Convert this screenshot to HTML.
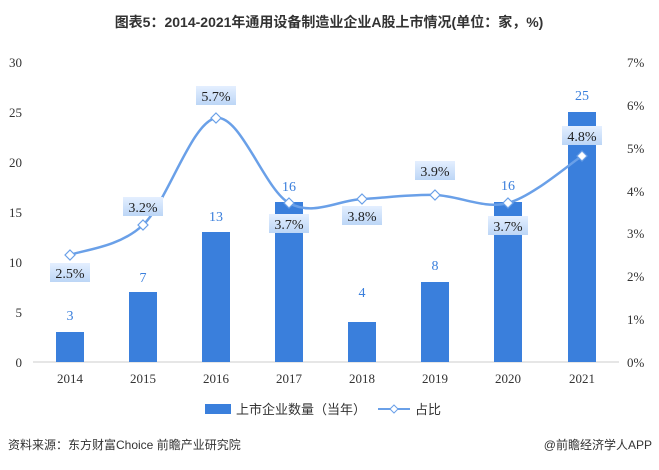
<!DOCTYPE html><html><head><meta charset="utf-8"><style>body{margin:0;background:#fff}svg text{font-family:"Liberation Serif","Noto Serif CJK SC",serif}</style></head><body>
<svg width="659" height="465" xmlns="http://www.w3.org/2000/svg">
<defs><linearGradient id="g" x1="0" y1="0" x2="0" y2="1"><stop offset="0" stop-color="#e4efff"/><stop offset="1" stop-color="#bcd6f6"/></linearGradient></defs>
<text x="329" y="27" text-anchor="middle" font-size="14" font-weight="bold" fill="#333" style="font-family:'Liberation Sans','Noto Sans CJK SC',sans-serif">图表5：2014-2021年通用设备制造业企业A股上市情况(单位：家，%)</text>
<g font-size="13" fill="#333">
<text x="22" y="367" text-anchor="end">0</text><text x="22" y="317" text-anchor="end">5</text><text x="22" y="267" text-anchor="end">10</text><text x="22" y="217" text-anchor="end">15</text><text x="22" y="167" text-anchor="end">20</text><text x="22" y="117" text-anchor="end">25</text><text x="22" y="67" text-anchor="end">30</text>
<text x="627" y="367">0%</text><text x="627" y="324">1%</text><text x="627" y="281">2%</text><text x="627" y="238">3%</text><text x="627" y="196">4%</text><text x="627" y="153">5%</text><text x="627" y="110">6%</text><text x="627" y="67">7%</text>
<g text-anchor="middle"><text x="70" y="383">2014</text><text x="143" y="383">2015</text><text x="216" y="383">2016</text><text x="289" y="383">2017</text><text x="362" y="383">2018</text><text x="435" y="383">2019</text><text x="508" y="383">2020</text><text x="582" y="383">2021</text></g>
</g>
<line x1="33" y1="362" x2="619" y2="362" stroke="#ccc"/>
<g fill="#3a7fdc">
<rect x="56" y="332" width="28" height="30"/><rect x="129" y="292" width="28" height="70"/><rect x="202" y="232" width="28" height="130"/><rect x="275" y="202" width="28" height="160"/><rect x="348" y="322" width="28" height="40"/><rect x="421" y="282" width="28" height="80"/><rect x="494" y="202" width="28" height="160"/><rect x="568" y="112" width="28" height="250"/>
</g>
<g font-size="14" fill="#3a7fdc" text-anchor="middle">
<text x="70" y="320">3</text><text x="143" y="282">7</text><text x="216" y="221">13</text><text x="289" y="191">16</text><text x="362" y="297">4</text><text x="435" y="270">8</text><text x="508" y="190">16</text><text x="582" y="100">25</text>
</g>
<path d="M70,255 C82,250 118.7,247.8 143,225 C167.3,202.2 191.7,121.7 216,118 C240.3,114.3 264.7,189.5 289,203 C313.3,216.5 337.7,200.3 362,199 C386.3,197.7 410.7,194.3 435,195 C459.3,195.7 483.5,209.5 508,203 C532.5,196.5 569.7,163.8 582,156" fill="none" stroke="#6aa0e8" stroke-width="2.5"/>
<g fill="#fff" stroke="#6aa0e8" stroke-width="1.2">
<path d="M70,250l5,5l-5,5l-5,-5z"/><path d="M143,220l5,5l-5,5l-5,-5z"/><path d="M216,113l5,5l-5,5l-5,-5z"/><path d="M289,198l5,5l-5,5l-5,-5z"/><path d="M362,194l5,5l-5,5l-5,-5z"/><path d="M435,190l5,5l-5,5l-5,-5z"/><path d="M508,198l5,5l-5,5l-5,-5z"/><path d="M582,151l5,5l-5,5l-5,-5z"/>
</g>
<g fill="url(#g)">
<rect x="50" y="263" width="40" height="19"/><rect x="123" y="197" width="40" height="19"/><rect x="196" y="86" width="40" height="19"/><rect x="269" y="214" width="40" height="19"/><rect x="342" y="206" width="40" height="19"/><rect x="415" y="161" width="40" height="19"/><rect x="488" y="216" width="40" height="19"/><rect x="562" y="126" width="40" height="19"/>
</g>
<g font-size="14" fill="#222" text-anchor="middle">
<text x="70" y="278">2.5%</text><text x="143" y="212">3.2%</text><text x="216" y="101">5.7%</text><text x="289" y="229">3.7%</text><text x="362" y="221">3.8%</text><text x="435" y="176">3.9%</text><text x="508" y="231">3.7%</text><text x="582" y="141">4.8%</text>
</g>
<rect x="205" y="404" width="26" height="10" fill="#3a7fdc"/>
<text x="236" y="414" font-size="13" fill="#333" style="font-family:'Liberation Sans','Noto Sans CJK SC',sans-serif">上市企业数量（当年）</text>
<line x1="378" y1="409" x2="410" y2="409" stroke="#6aa0e8" stroke-width="2"/>
<path d="M394,405l4,4l-4,4l-4,-4z" fill="#fff" stroke="#6aa0e8"/>
<text x="415" y="414" font-size="13" fill="#333" style="font-family:'Liberation Sans','Noto Sans CJK SC',sans-serif">占比</text>
<text x="8" y="449" font-size="12" fill="#333" style="font-family:'Liberation Sans','Noto Sans CJK SC',sans-serif">资料来源：东方财富Choice 前瞻产业研究院</text>
<text x="652" y="449" font-size="12" fill="#333" text-anchor="end" style="font-family:'Liberation Sans','Noto Sans CJK SC',sans-serif">@前瞻经济学人APP</text>
</svg></body></html>
